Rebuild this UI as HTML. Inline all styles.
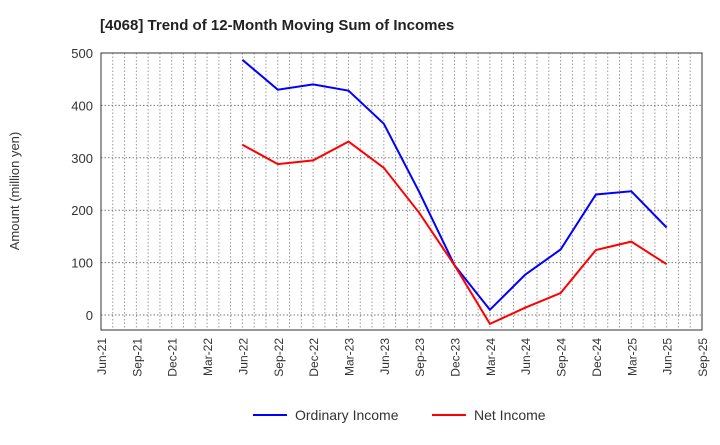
<!DOCTYPE html>
<html><head><meta charset="utf-8"><style>
body{margin:0;background:#fff;font-family:"Liberation Sans",sans-serif;}
svg text{font-family:"Liberation Sans",sans-serif;}
</style></head><body>
<svg id="chart" width="720" height="440" xmlns="http://www.w3.org/2000/svg">
<text x="100" y="30" font-size="15" font-weight="bold" fill="#222">[4068]  Trend of 12-Month Moving Sum of Incomes</text>
<text transform="translate(19,191) rotate(-90)" text-anchor="middle" font-size="13" fill="#333">Amount (million yen)</text>
<g id="grid"></g><g id="axes"></g><g id="series"></g>
<g>
<line x1="253" y1="415" x2="287" y2="415" stroke="#0000ff" stroke-width="2"/>
<text x="295" y="420" font-size="14" fill="#333">Ordinary Income</text>
<line x1="432" y1="415" x2="466" y2="415" stroke="#ff0000" stroke-width="2"/>
<text x="474" y="420" font-size="14" fill="#333">Net Income</text>
</g>
</svg>
<script>
const xLabels=["Jun-21","Sep-21","Dec-21","Mar-22","Jun-22","Sep-22","Dec-22","Mar-23","Jun-23","Sep-23","Dec-23","Mar-24","Jun-24","Sep-24","Dec-24","Mar-25","Jun-25","Sep-25"];
const yTicks=[0,100,200,300,400,500];
const ordinaryIncome=[null,null,null,null,487,430,440,428,365,235,95,10,77,125,230,236,167,null];
const netIncome=[null,null,null,null,325,288,295,331,281,195,95,-17,14,42,124,140,97,null];
const L=101,R=702,T=53,B=330,ymin=-28.6,ymax=500;
const NS="http://www.w3.org/2000/svg";
const xs=i=>L+(R-L)*i/(xLabels.length-1);
const ys=v=>B-(v-ymin)/(ymax-ymin)*(B-T);
function mk(t,a,p){const e=document.createElementNS(NS,t);for(const k in a)e.setAttribute(k,a[k]);p.appendChild(e);return e;}
const g=document.getElementById('grid'),ax=document.getElementById('axes'),s=document.getElementById('series');
for(let m=1;m<(xLabels.length-1)*3;m++){const x=L+(R-L)*m/((xLabels.length-1)*3);
const l=mk('line',{x1:x,x2:x,y1:T,y2:B,stroke:'#999','stroke-dasharray':'1.5,2','stroke-width':1},g);
}
yTicks.forEach(v=>{const y=ys(v);
const l=mk('line',{x1:L,x2:R,y1:y,y2:y,stroke:'#777','stroke-dasharray':'1.5,2','stroke-width':1},g);

const t=mk('text',{x:L-8,y:y+5,'text-anchor':'end','font-size':13,fill:'#333'},ax);t.textContent=v;
});
const r=mk('rect',{x:L,y:T,width:R-L,height:B-T,fill:'none',stroke:'#333','stroke-width':1},ax);

xLabels.forEach((lb,i)=>{const x=xs(i);
const t=mk('text',{transform:`translate(${x+5},${B+8}) rotate(-90)`,'text-anchor':'end','font-size':12,fill:'#333'},ax);t.textContent=lb;
});
function line(arr,color,name){const pts=[];arr.forEach((v,i)=>{if(v!==null)pts.push(xs(i).toFixed(1)+','+ys(v).toFixed(1));});
const p=mk('polyline',{points:pts.join(' '),fill:'none',stroke:color,'stroke-width':2},s);
}
line(ordinaryIncome,'#0000ff','ordinary-income-line');
line(netIncome,'#ff0000','net-income-line');
</script>
</body></html>
